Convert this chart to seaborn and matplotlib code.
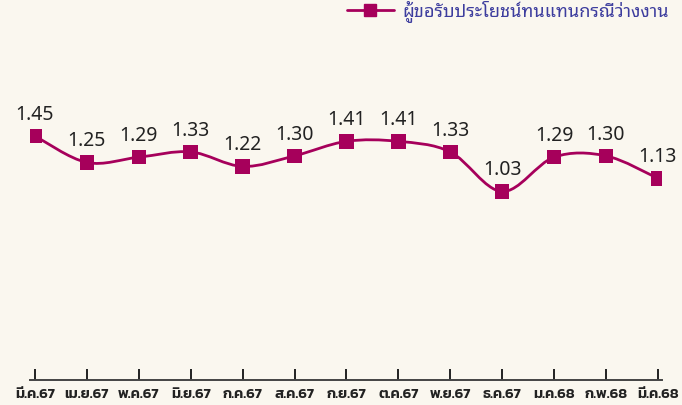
import matplotlib
matplotlib.use("Agg")
import matplotlib.pyplot as plt
import numpy as np
import pandas as pd
import seaborn as sns
from matplotlib.lines import Line2D
from matplotlib.patches import PathPatch
from matplotlib.path import Path

# ข้อมูล
months = ["มี.ค.67", "เม.ย.67", "พ.ค.67", "มิ.ย.67", "ก.ค.67", "ส.ค.67", "ก.ย.67",
          "ต.ค.67", "พ.ย.67", "ธ.ค.67", "ม.ค.68", "ก.พ.68", "มี.ค.68"]
values = [1.45, 1.25, 1.29, 1.33, 1.22, 1.30, 1.41, 1.41, 1.33, 1.03, 1.29, 1.30, 1.13]
series_name = "ผู้ขอรับประโยชน์ทนแทนกรณีว่างงาน"

BG = "#faf7ef"
LINE = "#a6005b"

sns.set_style("white")
plt.rcParams["font.family"] = ["Noto Sans Thai", "DejaVu Sans"]

df = pd.DataFrame({"x": np.arange(len(months)), "v": values})

fig = plt.figure(figsize=(6.82, 4.05), dpi=100, facecolor=BG)
ax = fig.add_axes([30 / 682, 1 - 380 / 405, 632 / 682, 370 / 405])
ax.set_facecolor(BG)

# เส้นโค้งแบบ Catmull-Rom ผ่านทุกจุด
pts = df[["x", "v"]].to_numpy(dtype=float)
ext = np.vstack([pts[0], pts, pts[-1]])
verts = [tuple(pts[0])]
codes = [Path.MOVETO]
for i in range(len(pts) - 1):
    p0, p1, p2, p3 = ext[i], ext[i + 1], ext[i + 2], ext[i + 3]
    verts += [tuple(p1 + (p2 - p0) / 6), tuple(p2 - (p3 - p1) / 6), tuple(p2)]
    codes += [Path.CURVE4] * 3
ax.add_patch(PathPatch(Path(verts, codes), facecolor="none", edgecolor=LINE, lw=2, zorder=2))

sns.scatterplot(data=df, x="x", y="v", marker="s", s=110, color=LINE,
                edgecolor="none", ax=ax, zorder=3, legend=False)

for xi, v in zip(df["x"], df["v"]):
    ax.annotate(f"{v:.2f}", (xi, v), xytext=(0, 8), textcoords="offset points",
                ha="center", va="bottom", fontsize=14, color="#222222",
                family=["Noto Sans Thai", "DejaVu Sans"], fontweight="light")

ax.set_xlim(-0.096, 12.08)
ax.set_ylim(-0.398, 2.405)
ax.set_xticks(df["x"])
ax.set_xticklabels(months, fontsize=10.5, fontweight="semibold",
                   family=["Kanit", "DejaVu Sans"], color="#222222")
ax.tick_params(axis="x", bottom=True, direction="in", length=8, width=1.4,
               color="#222222", pad=6)
ax.set_yticks([])
ax.set_xlabel("")
ax.set_ylabel("")
for s in ["left", "right", "top"]:
    ax.spines[s].set_visible(False)
ax.spines["bottom"].set_color("#444444")
ax.spines["bottom"].set_linewidth(1.4)

handle = Line2D([], [], color=LINE, lw=2, marker="s", markersize=9)
leg = fig.legend([handle], [series_name], loc="upper right", bbox_to_anchor=(1.005, 1.04),
                 frameon=False, handlelength=2.6, handletextpad=0.5,
                 prop={"family": ["Noto Sans Thai Looped", "DejaVu Sans"], "size": 13})
for t in leg.get_texts():
    t.set_color("#3d3d9e")

fig.savefig("out.png", dpi=100, facecolor=BG)
